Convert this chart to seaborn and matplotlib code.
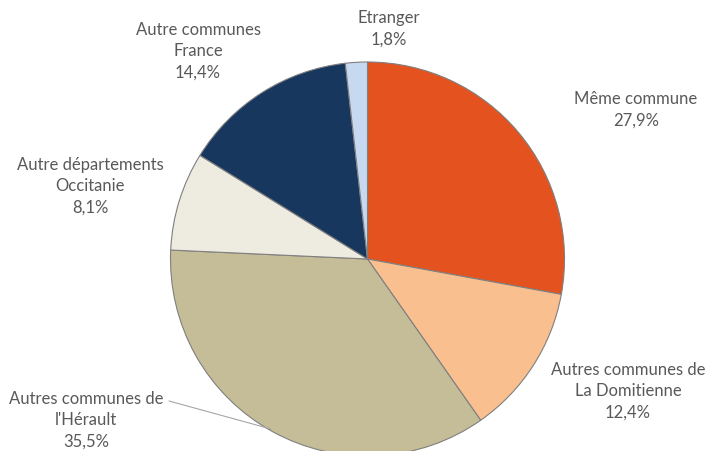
import matplotlib
matplotlib.use("Agg")
import matplotlib.pyplot as plt
import seaborn as sns

# data (clockwise from top)
categories = ["Même commune", "Autres communes de\nLa Domitienne", "Autres communes de\nl'Hérault",
              "Autre départements\nOccitanie", "Autre communes\nFrance", "Etranger"]
shares = [27.9, 12.4, 35.5, 8.1, 14.4, 1.8]
colors = ["#E4531F", "#F9BF8F", "#C4BD97", "#EEECE1", "#17375E", "#C6D9F1"]

sns.set_style("white")
plt.rcParams['font.family'] = ['Lato', 'DejaVu Sans']

W, H = 712, 452
fig = plt.figure(figsize=(W / 100, H / 100), dpi=100)
ax = fig.add_axes([0, 0, 1, 1])

# pixel coordinates, y measured from the bottom
cx, cy, r = 367.5, H - 260, 197
ax.pie(shares, colors=colors, startangle=90, counterclock=False,
       center=(cx, cy), radius=r,
       wedgeprops=dict(edgecolor="#7F7F7F", linewidth=0.8))

# label placement (pixel coords from top-left)
label_pos = [(636, 110), (628, 391), (86, 420), (90, 186), (198, 51), (389, 29)]
for cat, val, (lx, ly) in zip(categories, shares, label_pos):
    txt = f"{cat}\n{val:.1f}%".replace(".", ",")
    ax.text(lx, H - ly, txt, ha="center", va="center", fontsize=12,
            color="#595959", linespacing=1.42)

# leader line for the Hérault label
ax.plot([169, 271], [H - 402, H - 430], color="#A6A6A6", lw=0.8)

ax.set_xlim(0, W)
ax.set_ylim(0, H)
ax.set_aspect("equal")
ax.axis("off")

fig.savefig("out.png", dpi=100)
